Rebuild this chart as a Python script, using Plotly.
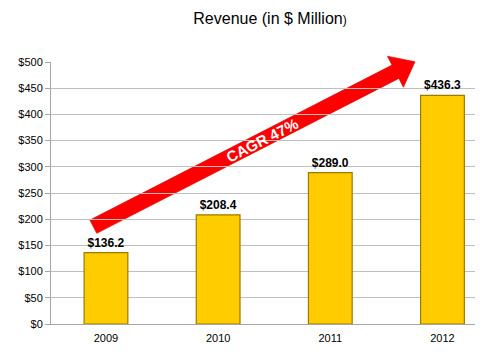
import plotly.graph_objects as go
import math

years = ["2009", "2010", "2011", "2012"]
revenue = [136.2, 208.4, 289.0, 436.3]
y_ticks = [0, 50, 100, 150, 200, 250, 300, 350, 400, 450, 500]
y_tick_labels = ["$" + str(v) for v in y_ticks]
cagr_label = "CAGR 47%"

FONT = "Liberation Sans, Arial, sans-serif"
W, H = 480, 352
ML, MR, MT, MB = 51, 5, 62, 28
PW, PH = W - ML - MR, H - MT - MB

def px2paper(x, y):
    return ((x - ML) / PW, (H - MB - y) / PH)

fig = go.Figure()
fig.add_trace(go.Bar(
    x=years, y=revenue, width=0.39,
    marker=dict(color="#FFCC00", line=dict(color="#9C7A00", width=1.2)),
    texttemplate="<b>$%{y:.1f}</b>", textposition="outside",
    textfont=dict(family=FONT, size=12, color="#000000"),
    cliponaxis=False, showlegend=False,
))

# Arrow polygon (decorative), in pixel geometry converted to paper coordinates
T = (93.3, 226.7)
P = (415.0, 61.7)
dx, dy = P[0] - T[0], P[1] - T[1]
L = math.hypot(dx, dy)
ux, uy = dx / L, dy / L
nx, ny = -uy, ux
w, hw, hl = 7.5, 17.5, 22.0
B = (P[0] - ux * hl, P[1] - uy * hl)
pts = [
    (T[0] + nx * w, T[1] + ny * w),
    (B[0] + nx * w, B[1] + ny * w),
    (B[0] + nx * hw, B[1] + ny * hw),
    P,
    (B[0] - nx * hw, B[1] - ny * hw),
    (B[0] - nx * w, B[1] - ny * w),
    (T[0] - nx * w, T[1] - ny * w),
]
ppts = [px2paper(x, y) for x, y in pts]
path = "M " + " L ".join(f"{a:.4f},{b:.4f}" for a, b in ppts) + " Z"
fig.add_shape(type="path", path=path, xref="paper", yref="paper",
              fillcolor="#FF0000", line=dict(color="#CC0000", width=0.6), layer="between")

C = px2paper(261.7, 140.4)
ang = math.degrees(math.atan2(-dy, dx))
fig.add_annotation(x=C[0], y=C[1], xref="paper", yref="paper",
                   text="<b>" + cagr_label + "</b>", showarrow=False,
                   textangle=-ang, xanchor="center", yanchor="middle",
                   font=dict(family=FONT, size=15, color="#FFFFFF"))

fig.update_layout(
    width=W, height=H,
    margin=dict(l=ML, r=MR, t=MT, b=MB, pad=0),
    paper_bgcolor="#FFFFFF", plot_bgcolor="#FFFFFF",
    title=dict(text="Revenue (in $ Million<span style='font-size:12px'>)</span>",
               x=270 / W, y=1 - 18 / H, xref="container",
               xanchor="center", yanchor="middle",
               font=dict(family=FONT, size=16, color="#000000")),
    font=dict(family=FONT, size=11, color="#000000"),
    bargap=0.5,
)
fig.update_xaxes(range=[-0.49, 3.29], showgrid=False, showline=True,
                 linecolor="#A6A6A6", linewidth=1, ticks="outside", ticklen=4,
                 tickcolor="rgba(0,0,0,0)",
                 tickfont=dict(family=FONT, size=11, color="#000000"))
fig.update_yaxes(range=[0, 500], tickvals=y_ticks, ticktext=y_tick_labels,
                 showgrid=True, gridcolor="#BFBFBF", gridwidth=1,
                 showline=True, linecolor="#A6A6A6", linewidth=1,
                 ticks="outside", ticklen=5, tickcolor="#A6A6A6",
                 tickfont=dict(family=FONT, size=11, color="#000000"),
                 zeroline=False)

fig.write_html("out.html")
